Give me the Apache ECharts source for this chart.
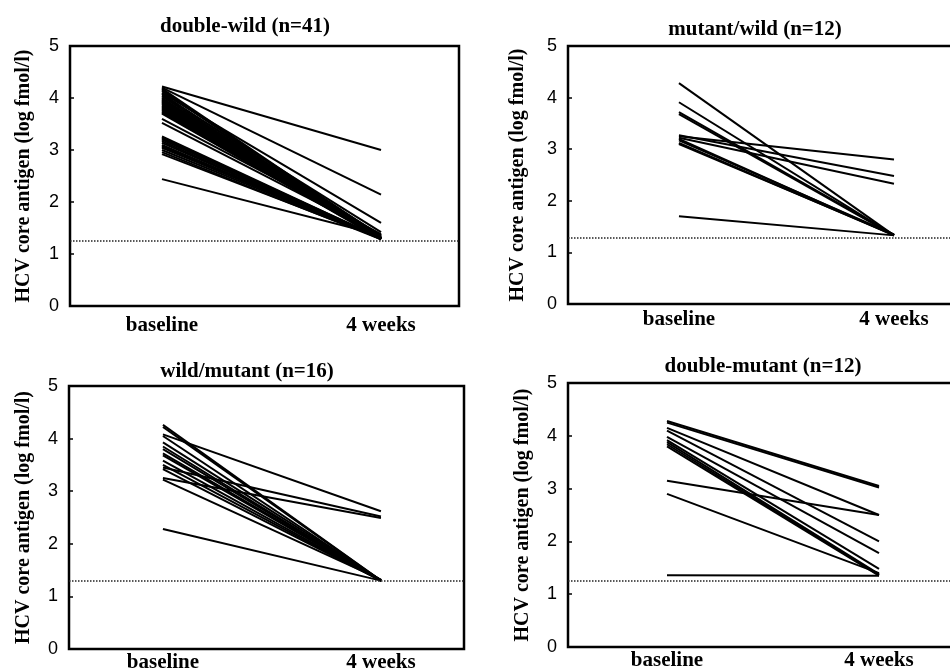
<!DOCTYPE html>
<html>
<head>
<meta charset="utf-8">
<script src="https://cdn.jsdelivr.net/npm/echarts@6/dist/echarts.min.js"></script>
<style>html,body{margin:0;background:#fff}#chart{width:950px;height:668px}</style>
</head>
<body>
<div id="chart"></div>
<script>
var timepoints = ['baseline', '4 weeks'];
var titles = ['double-wild (n=41)', 'mutant/wild (n=12)', 'wild/mutant (n=16)', 'double-mutant (n=12)'];
var yTitle = 'HCV core antigen (log fmol/l)';
// detection limit (dotted line), read per panel
var limits = [1.25, 1.28, 1.29, 1.25];

var p1Base = [4.22, 4.2, 4.18, 4.15, 4.13, 4.1, 4.08, 4.05, 4.03, 4.0, 3.98, 3.96, 3.94, 3.92, 3.9, 3.88, 3.86, 3.84, 3.82, 3.8, 3.78, 3.76, 3.74, 3.72, 3.7, 3.6, 3.52, 3.26, 3.24, 3.22, 3.2, 3.17, 3.14, 3.1, 3.08, 3.06, 3.04, 3.0, 2.96, 2.92, 2.44];
var p1Week4 = [3.0, 2.14, 1.32, 1.3, 1.34, 1.6, 1.3, 1.42, 1.31, 1.3, 1.36, 1.29, 1.3, 1.33, 1.3, 1.28, 1.31, 1.3, 1.35, 1.29, 1.3, 1.32, 1.3, 1.28, 1.3, 1.38, 1.36, 1.3, 1.29, 1.31, 1.3, 1.28, 1.3, 1.3, 1.29, 1.3, 1.31, 1.3, 1.28, 1.3, 1.36];

var p2Base = [4.28, 3.91, 3.72, 3.68, 3.27, 3.25, 3.22, 3.2, 3.17, 3.12, 3.1, 1.7];
var p2Week4 = [1.33, 1.33, 1.34, 1.33, 2.48, 2.8, 2.33, 1.33, 1.35, 1.33, 1.34, 1.33];

var p3Base = [4.26, 4.22, 4.08, 4.05, 3.93, 3.85, 3.8, 3.72, 3.68, 3.58, 3.5, 3.45, 3.42, 3.25, 3.22, 2.28];
var p3Week4 = [1.3, 1.3, 2.62, 1.3, 1.31, 1.3, 1.3, 1.31, 1.3, 1.3, 1.3, 2.52, 1.3, 2.49, 1.32, 1.3];

var p4Base = [4.28, 4.25, 4.15, 4.1, 3.98, 3.92, 3.88, 3.84, 3.8, 3.15, 2.9, 1.36];
var p4Week4 = [3.05, 3.02, 2.5, 2.0, 1.78, 1.48, 1.38, 1.36, 1.35, 2.5, 1.4, 1.35];

var panels = [[p1Base, p1Week4], [p2Base, p2Week4], [p3Base, p3Week4], [p4Base, p4Week4]];

// panel layout
var grids = [
  {left: 70, top: 46, width: 389, height: 260},
  {left: 568, top: 46, width: 392, height: 258},
  {left: 69, top: 386, width: 395, height: 263},
  {left: 568, top: 383, width: 392, height: 264}
];
var xRange = [[0.58, 2.356], [0.484, 2.307], [0.569, 2.381], [0.533, 2.382]];
var titlePos = [[240, 11], [750, 14], [242, 356], [758, 351]];
var nameGaps = [36, 40, 35, 35];
var xLabelMargins = [9, 5, 3, 3];

var serif = 'Liberation Serif';
var myChart = echarts.init(document.getElementById('chart'));

var series = [];
panels.forEach(function (p, k) {
  p[0].forEach(function (b, i) {
    var s = {
      type: 'line',
      xAxisIndex: k,
      yAxisIndex: k,
      data: [[1, b], [2, p[1][i]]],
      symbol: 'none',
      silent: true,
      lineStyle: {color: '#000', width: 2}
    };
    if (i == 0) {
      s.markLine = {
        silent: true,
        symbol: ['none', 'none'],
        label: {show: false},
        lineStyle: {type: 'dotted', color: '#222', width: 1.5},
        data: [{yAxis: limits[k]}]
      };
    }
    series.push(s);
  });
});

option = {
  animation: false,
  backgroundColor: '#fff',
  title: titles.map(function (t, k) {
    return {
      text: t,
      left: titlePos[k][0],
      top: titlePos[k][1],
      textAlign: 'center',
      textStyle: {fontFamily: serif, fontWeight: 'bold', fontSize: 21, color: '#000'}
    };
  }),
  grid: grids.map(function (g) {
    return {
      left: g.left, top: g.top, width: g.width, height: g.height,
      containLabel: false, outerBoundsMode: 'none',
      show: true, borderColor: '#000', borderWidth: 2.5, backgroundColor: 'transparent'
    };
  }),
  xAxis: grids.map(function (g, k) {
    return {
      type: 'value',
      gridIndex: k,
      min: xRange[k][0],
      max: xRange[k][1],
      axisLine: {show: false},
      axisTick: {show: false},
      splitLine: {show: false},
      axisLabel: {
        customValues: [1, 2],
        margin: xLabelMargins[k],
        fontFamily: serif, fontWeight: 'bold', fontSize: 21, color: '#000',
        formatter: function (v) { return timepoints[Math.round(v) - 1]; }
      }
    };
  }),
  yAxis: grids.map(function (g, k) {
    return {
      type: 'value',
      gridIndex: k,
      min: 0,
      max: 5,
      interval: 1,
      name: yTitle,
      nameLocation: 'middle',
      nameGap: nameGaps[k],
      nameTextStyle: {fontFamily: serif, fontWeight: 'bold', fontSize: 20, color: '#000'},
      axisLine: {show: false},
      axisTick: {show: true, inside: true, length: 4, lineStyle: {color: '#000', width: 1.5}},
      splitLine: {show: false},
      axisLabel: {margin: 11, fontFamily: 'Liberation Sans', fontSize: 18, color: '#000'}
    };
  }),
  series: series
};
myChart.setOption(option);
</script>
</body>
</html>
